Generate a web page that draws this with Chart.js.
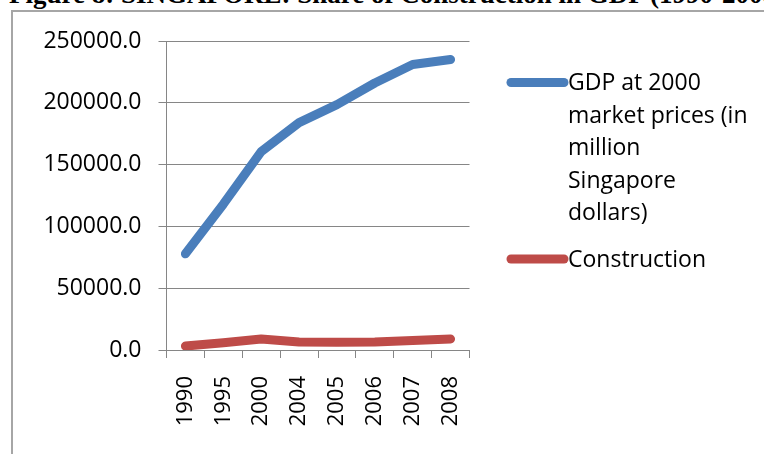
<!DOCTYPE html>
<html>
<head>
<meta charset="utf-8">
<script src="https://cdn.jsdelivr.net/npm/chart.js@4.4.1/dist/chart.umd.min.js"></script>
<style>
  body { margin: 0; background: #fff; overflow: hidden; }
  #wrap { position: relative; width: 764px; height: 454px; overflow: hidden; }
  #title {
    position: absolute; left: 9px; top: -19.5px; white-space: nowrap;
    font: bold 27px "Liberation Serif", "Times New Roman", serif; line-height: 1;
    color: #000;
  }
  #frame {
    position: absolute; left: 11px; top: 10px; width: 900px; height: 600px;
    border-left: 2px solid #a6a6a6; border-top: 2px solid #a6a6a6;
  }
  #myChart { position: absolute; left: 0; top: 0; }
</style>
</head>
<body>
<div id="wrap">
  <div id="title">Figure 8: SINGAPORE: Share of Construction in GDP (1990-2008)</div>
  <div id="frame"></div>
  <canvas id="myChart" width="764" height="454"></canvas>
</div>
<script>
var years = ['1990', '1995', '2000', '2004', '2005', '2006', '2007', '2008'];
var gdp = [77800, 118000, 160500, 184000, 198500, 216000, 231000, 235000];
var construction = [3200, 5800, 8900, 6500, 6300, 6500, 7600, 8900];
var gdpLegend = ['GDP at 2000', 'market prices (in', 'million', 'Singapore', 'dollars)'];
var constructionLegend = ['Construction'];

var blue = '#4a7ebb';
var red = '#be4b48';
var axisGrey = '#868686';
var font = '"Open Sans", "Noto Sans", sans-serif';

// legend on the right, with the long label wrapped over several lines
var sideLegend = {
  id: 'sideLegend',
  afterDraw: function (chart) {
    var c = chart.ctx;
    var items = [
      { lines: gdpLegend, color: blue, y: 82.5 },
      { lines: constructionLegend, color: red, y: 259 }
    ];
    c.save();
    c.font = '23px ' + font;
    c.fillStyle = '#000';
    c.textBaseline = 'alphabetic';
    items.forEach(function (item) {
      c.strokeStyle = item.color;
      c.lineWidth = 9;
      c.lineCap = 'round';
      c.beginPath();
      c.moveTo(511, item.y);
      c.lineTo(564, item.y);
      c.stroke();
      item.lines.forEach(function (line, i) {
        c.fillText(line, 568, item.y + 7.5 + i * 32.5);
      });
    });
    c.restore();
  }
};

var ctx = document.getElementById('myChart').getContext('2d');

var myChart = new Chart(ctx, {
  type: 'line',
  data: {
    labels: years,
    datasets: [{
      label: gdpLegend.join(' '),
      data: gdp,
      borderColor: blue,
      backgroundColor: blue,
      borderWidth: 9,
      borderCapStyle: 'round',
      borderJoinStyle: 'round',
      pointRadius: 0,
      tension: 0
    }, {
      label: constructionLegend[0],
      data: construction,
      borderColor: red,
      backgroundColor: red,
      borderWidth: 9,
      borderCapStyle: 'round',
      borderJoinStyle: 'round',
      pointRadius: 0,
      tension: 0
    }]
  },
  options: {
    responsive: false,
    animation: false,
    layout: { padding: { left: 0, top: 41, right: 294.5, bottom: 0 } },
    plugins: {
      legend: { display: false },
      tooltip: { enabled: false }
    },
    scales: {
      x: {
        offset: true,
        afterFit: function (scale) { scale.height = 104; },
        grid: {
          offset: true,
          drawOnChartArea: false,
          tickLength: 8,
          color: axisGrey
        },
        border: { color: axisGrey, width: 1 },
        ticks: {
          minRotation: 90,
          maxRotation: 90,
          padding: 18,
          color: '#000',
          font: { family: font, size: 22 }
        }
      },
      y: {
        min: 0,
        max: 250000,
        afterFit: function (scale) { scale.width = 166.5; },
        grid: { color: axisGrey, tickLength: 8 },
        border: { color: axisGrey, width: 1 },
        ticks: {
          stepSize: 50000,
          padding: 17,
          color: '#000',
          font: { family: font, size: 23 },
          callback: function (v) { return v.toFixed(1); }
        }
      }
    }
  },
  plugins: [sideLegend]
});
</script>
</body>
</html>
